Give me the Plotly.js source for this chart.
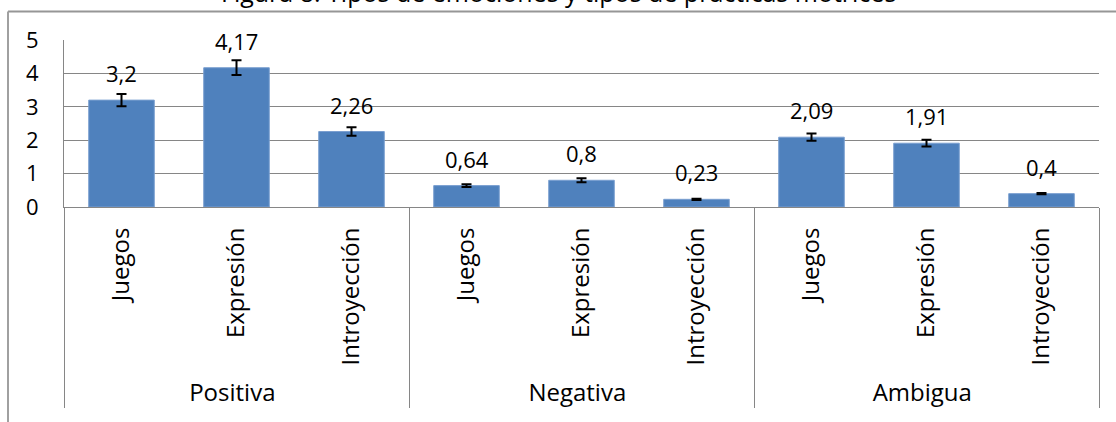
<!DOCTYPE html>
<html>
<head>
<meta charset="utf-8">
<script src="https://cdn.plot.ly/plotly-3.0.1.min.js"></script>
<style>html,body{margin:0;padding:0;background:#fff;}#chart{width:1116px;height:422px;}</style>
</head>
<body>
<div id="chart"></div>
<script>
const groups = ["Positiva","Positiva","Positiva","Negativa","Negativa","Negativa","Ambigua","Ambigua","Ambigua"];
const practices = ["Juegos","Expresión","Introyección","Juegos","Expresión","Introyección","Juegos","Expresión","Introyección"];
const values = [3.2, 4.17, 2.26, 0.64, 0.8, 0.23, 2.09, 1.91, 0.4];
const errors = [0.18, 0.22, 0.13, 0.04, 0.06, 0.02, 0.11, 0.10, 0.02];
const yTicks = [0,1,2,3,4,5];
const titleText = "Figura 8. Tipos de emociones y tipos de prácticas motrices";

const FONT = "Open Sans, Lato, sans-serif";
const FS = 22;

const trace = {
  type: "bar",
  x: [groups, practices],
  y: values,
  width: 0.57,
  marker: {color: "#4F81BD", line: {color: "#7a9fd0", width: 1}},
  error_y: {type: "data", array: errors, visible: true, color: "#000", thickness: 2, width: 5},
  hoverinfo: "none"
};

const annotations = values.map((v, i) => ({
  x: [groups[i], practices[i]].join(","),
  xref: "x", yref: "y",
  y: v,
  text: String(v).replace(".", ","),
  showarrow: false,
  yanchor: "bottom",
  yshift: 10,
  font: {family: FONT, size: FS, color: "#000"}
}));

annotations.push({
  text: titleText, xref: "paper", yref: "paper", x: 0.478, xanchor: "center",
  y: 1.175, yanchor: "bottom", showarrow: false,
  font: {family: FONT, size: 25, color: "#000"}
});

const layout = {
  width: 1116, height: 422,
  margin: {l: 64, r: 17, t: 40, b: 215},
  paper_bgcolor: "#fff", plot_bgcolor: "#fff",
  showlegend: false,
  separators: ", ",
  font: {family: FONT, size: FS, color: "#000"},
  xaxis: {
    type: "multicategory",
    tickangle: -90,
    showline: true, linecolor: "#868686", linewidth: 1,
    showgrid: false, ticks: "",
    ticklabelstandoff: 10,
    showdividers: true, dividercolor: "#868686", dividerwidth: 1,
    tickfont: {family: FONT, size: 24, color: "#000"}
  },
  yaxis: {
    range: [0, 5], tickvals: yTicks, ticktext: yTicks.map(String),
    showgrid: true, gridcolor: "#868686", gridwidth: 1,
    showline: true, linecolor: "#868686", linewidth: 1,
    zeroline: false, ticks: "", ticklabelstandoff: 20,
    tickfont: {family: FONT, size: FS, color: "#000"}
  },
  shapes: [
    {type: "line", xref: "paper", yref: "paper", x0: -0.0541, x1: 1.2, y0: 1.17, y1: 1.17,
     line: {color: "#969696", width: 2}, layer: "above"},
    {type: "line", xref: "paper", yref: "paper", x0: -0.0541, x1: -0.0541, y0: 1.17, y1: -1.5,
     line: {color: "#a0a0a0", width: 2}, layer: "above"}
  ],
  annotations: annotations
};

Plotly.newPlot("chart", [trace], layout, {staticPlot: true, displayModeBar: false});
</script>
</body>
</html>
